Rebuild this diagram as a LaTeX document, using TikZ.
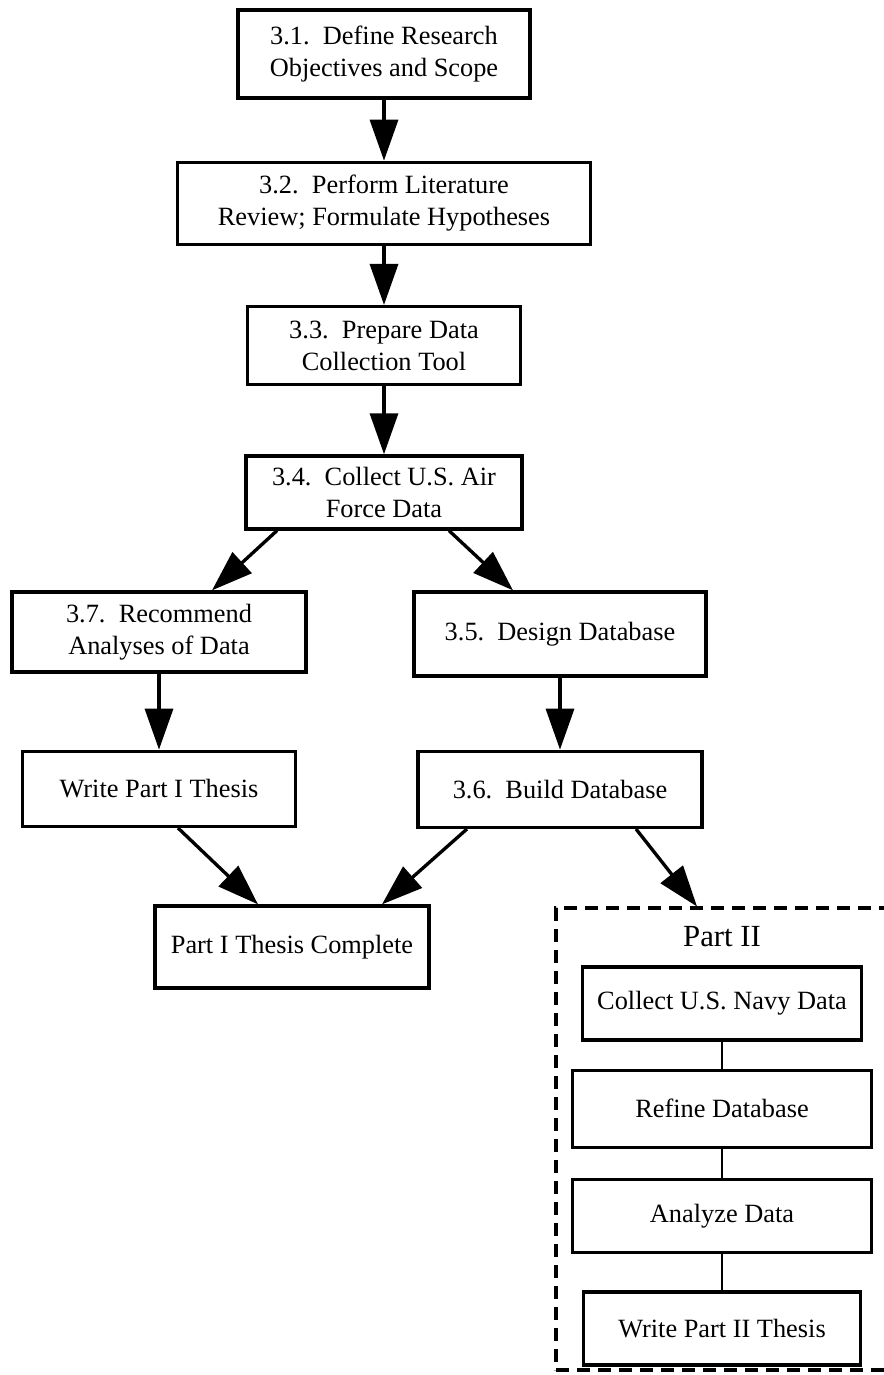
\documentclass[tikz,border=0pt]{standalone}
\usepackage{fontspec}
\setmainfont{Liberation Serif}
\usetikzlibrary{arrows.meta, positioning, calc}

\begin{document}
\begin{tikzpicture}[
  x=0.02cm, y=-0.02cm,
  font=\fontsize{15}{18}\selectfont,
  box/.style  = {draw, line width=1.9pt, align=center, inner sep=0pt},
  dbox/.style = {draw, line width=1.8pt, dash pattern=on 0.26cm off 0.16cm},
  arr/.style  = {-{Triangle[length=0.82cm, width=0.56cm]}, line width=1.9pt},
  lnk/.style  = {line width=1.6pt}
]
\useasboundingbox (0,0) rectangle (884,1375);

% Part I chain
\node[box, minimum width=5.84cm, minimum height=1.76cm] (b31) at (384,54)
  {3.1.\ \ Define Research\\Objectives and Scope};
\node[box, minimum width=8.26cm, minimum height=1.64cm, below=1.22cm of b31] (b32)
  {3.2.\ \ Perform Literature\\Review; Formulate Hypotheses};
\node[box, minimum width=5.46cm, minimum height=1.56cm, below=1.18cm of b32] (b33)
  {3.3.\ \ Prepare Data\\Collection Tool};
\node[box, minimum width=5.52cm, minimum height=1.46cm, below=1.36cm of b33] (b34)
  {3.4.\ \ Collect U.S. Air\\Force Data};
\node[box, minimum width=5.88cm, minimum height=1.60cm] (b37) at (159,632)
  {3.7.\ \ Recommend\\Analyses of Data};
\node[box, minimum width=5.84cm, minimum height=1.68cm] (b35) at (560,634)
  {3.5.\ \ Design Database};
\node[box, minimum width=5.46cm, minimum height=1.50cm, below=1.52cm of b37] (w1)
  {Write Part I Thesis};
\node[box, minimum width=5.68cm, minimum height=1.52cm, below=1.44cm of b35] (b36)
  {3.6.\ \ Build Database};
\node[box, minimum width=5.48cm, minimum height=1.64cm] (done) at (292,947)
  {Part I Thesis Complete};

% Part II
\node[dbox, minimum width=6.72cm, minimum height=9.24cm] (p2) at (724,1139) {};
\node[font=\fontsize{17.5}{20}\selectfont] (p2lbl) at (722,937) {Part II};
\node[box, minimum width=5.58cm, minimum height=1.46cm] (navy) at (722,1003.5)
  {Collect U.S. Navy Data};
\node[box, minimum width=5.98cm, minimum height=1.54cm, below=0.54cm of navy] (refine)
  {Refine Database};
\node[box, minimum width=5.98cm, minimum height=1.46cm, below=0.58cm of refine] (anlz)
  {Analyze Data};
\node[box, minimum width=5.54cm, minimum height=1.46cm, below=0.72cm of anlz] (w2)
  {Write Part II Thesis};

\draw[arr] (b31) -- (b32);
\draw[arr] (b32) -- (b33);
\draw[arr] (b33) -- (b34);
\draw[arr] ($(b34.south)+(-107,0)$) -- ($(b37.north)+(53,0)$);
\draw[arr] ($(b34.south)+(65,0)$)   -- ($(b35.north)+(-47,0)$);
\draw[arr] (b37) -- (w1);
\draw[arr] (b35) -- (b36);
\draw[arr] ($(w1.south)+(19,0)$)    -- ($(done.north)+(-34,0)$);
\draw[arr] ($(b36.south)+(-93,0)$)  -- ($(done.north)+(90,0)$);
\draw[arr] ($(b36.south)+(76,0)$)   -- ($(p2.north)+(-27,0)$);

\draw[lnk] (navy)   -- (refine);
\draw[lnk] (refine) -- (anlz);
\draw[lnk] (anlz)   -- (w2);
\end{tikzpicture}
\end{document}
